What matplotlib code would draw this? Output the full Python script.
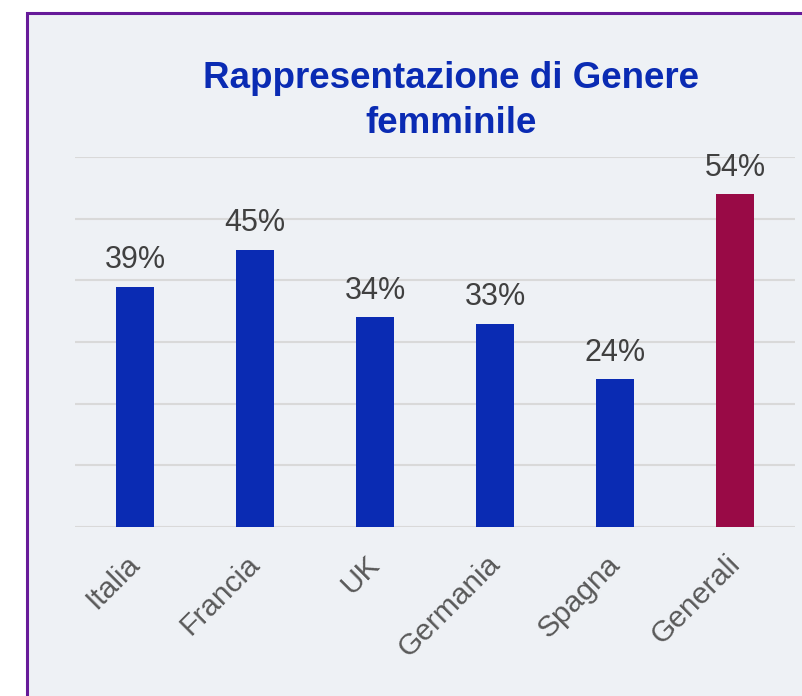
import matplotlib
matplotlib.use("Agg")
import matplotlib.pyplot as plt
from matplotlib.patches import Rectangle
import matplotlib.transforms as mtransforms

categories = ["Italia", "Francia", "UK", "Germania", "Spagna", "Generali"]
values = [39, 45, 34, 33, 24, 54]
value_labels = ["39%", "45%", "34%", "33%", "24%", "54%"]
title_text = "Rappresentazione di Genere\nfemminile"

W, H = 803, 696
fig = plt.figure(figsize=(W / 100, H / 100), dpi=100)
fig.patch.set_facecolor("white")
plt.rcParams["font.family"] = ["Liberation Sans", "DejaVu Sans"]

# background panel with purple border (open on right/bottom, cropped)
bg = Rectangle((27 / W, -0.05), 1.2, 1 - 13 / H + 0.05, transform=fig.transFigure,
               facecolor="#EEF1F5", edgecolor="#661A99", linewidth=2.2, zorder=-5)
fig.patches.append(bg)

ax = fig.add_axes([75 / W, (H - 527) / H, (795 - 75) / W, (527 - 157) / H])
ax.set_facecolor("none")
x = list(range(len(categories)))
colors = ["#0A2BB3"] * 5 + ["#990A46"]
ax.bar(x, values, width=0.32, color=colors, zorder=3)
ax.set_xlim(-0.5, len(categories) - 0.5)
ax.set_ylim(0, 60)
ax.set_yticks([0, 10, 20, 30, 40, 50, 60])
ax.yaxis.grid(True, color="#D9D9D9", linewidth=1.5, zorder=0)
ax.set_axisbelow(True)
for s in ax.spines.values():
    s.set_visible(False)
ax.tick_params(axis="y", left=False, labelleft=False)
ax.tick_params(axis="x", bottom=False, pad=20)
ax.set_xticks(x)
ax.set_xticklabels(categories, rotation=45, ha="right", va="center",
                   rotation_mode="anchor", fontsize=21.5, color="#595959")
offset = mtransforms.ScaledTranslation(0.5 / 100, 0, fig.dpi_scale_trans)
for lab in ax.get_xticklabels():
    lab.set_transform(lab.get_transform() + offset)

for xi, v, t in zip(x, values, value_labels):
    ax.annotate(t, (xi, v), xytext=(0, 13), textcoords="offset points",
                ha="center", va="baseline", fontsize=22, color="#404040")

fig.text(451 / W, 1 - 61 / H, title_text, ha="center", va="top",
         fontsize=26.5, fontweight="bold", color="#0A2BB3", linespacing=1.38)

fig.savefig("out.png", dpi=100, facecolor=fig.get_facecolor())
